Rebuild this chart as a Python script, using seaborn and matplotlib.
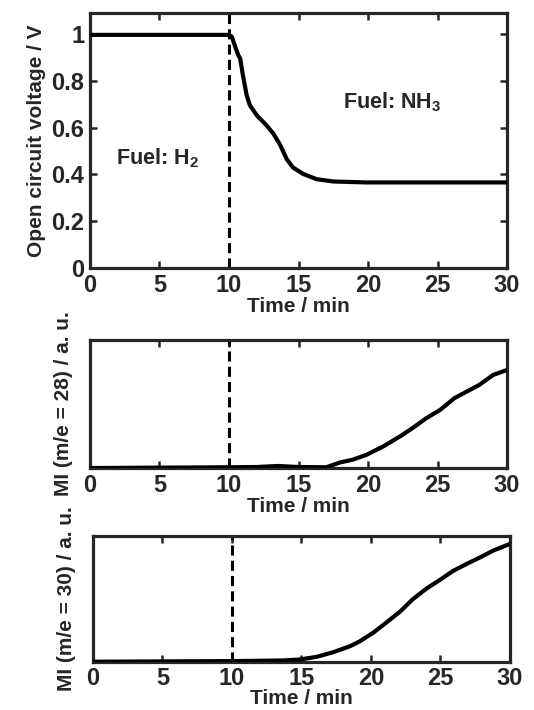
import numpy as np
import pandas as pd
import matplotlib
matplotlib.use('Agg')
import matplotlib.pyplot as plt
from matplotlib.ticker import FuncFormatter
import seaborn as sns

# Данные
switch_time = 10  # момент переключения топлива H2 -> NH3, мин

ocv_time = [0, 5, 9.9, 10.2, 10.4, 10.67, 10.8, 11.0, 11.27, 11.5, 12.0, 12.7,
            13.2, 13.7, 14.15, 14.6, 15.35, 16.3, 17.5, 19.9, 25, 30]
ocv_volt = [0.997, 0.997, 0.997, 0.99, 0.954, 0.91, 0.897, 0.825, 0.739, 0.696, 0.653, 0.61,
            0.574, 0.524, 0.466, 0.43, 0.402, 0.38, 0.37, 0.366, 0.366, 0.366]

mi28_time = [0, 10, 12, 13.5, 15, 17, 18, 18.9, 19.9, 21.1, 22.3, 23.2,
             24.2, 25.2, 26.2, 27.1, 28.0, 29.0, 30]
mi28_val = [0, 0.006, 0.008, 0.016, 0.008, 0.006, 0.044, 0.065, 0.104, 0.169, 0.247, 0.312,
            0.39, 0.455, 0.545, 0.597, 0.649, 0.727, 0.766]

mi30_time = [0, 10.1, 13.7, 14.9, 16.1, 17.3, 18.5, 19.2, 20.2, 21.1, 22.1, 23.0,
             24.0, 25.0, 25.9, 26.9, 27.8, 28.8, 30]
mi30_val = [0, 0.005, 0.01, 0.018, 0.039, 0.076, 0.123, 0.162, 0.233, 0.31, 0.398, 0.495,
            0.581, 0.652, 0.72, 0.777, 0.825, 0.882, 0.935]

x_ticks = [0, 5, 10, 15, 20, 25, 30]
ocv_ticks = [0, 0.2, 0.4, 0.6, 0.8, 1.0]

sns.set_theme(style='ticks')
plt.rcParams['font.family'] = ['Liberation Sans', 'DejaVu Sans']
plt.rcParams['font.weight'] = 'bold'
plt.rcParams['mathtext.fontset'] = 'custom'
plt.rcParams['mathtext.rm'] = 'Liberation Sans:bold'
plt.rcParams['mathtext.default'] = 'rm'

fig = plt.figure(figsize=(5.34, 7.10), dpi=100)
ax1 = fig.add_axes([0.1685, 0.6225, 0.781, 0.359])
ax2 = fig.add_axes([0.1685, 0.3408, 0.781, 0.1803])
ax3 = fig.add_axes([0.174, 0.068, 0.781, 0.1775])

df1 = pd.DataFrame({'t': ocv_time, 'v': ocv_volt})
df2 = pd.DataFrame({'t': mi28_time, 'v': mi28_val})
df3 = pd.DataFrame({'t': mi30_time, 'v': mi30_val})

for ax, df in [(ax1, df1), (ax2, df2), (ax3, df3)]:
    ax.axvline(switch_time, color='black', lw=2.2, linestyle=(0, (3.3, 1.7)), zorder=1)
    sns.lineplot(data=df, x='t', y='v', ax=ax, color='black', lw=3, zorder=3)
    ax.set_xlim(0, 30)
    ax.set_xticks(x_ticks)
    ax.set_xlabel('Time / min', fontsize=15, fontweight='bold', labelpad=0)
    for s in ax.spines.values():
        s.set_linewidth(2.3)
        s.set_visible(True)
    ax.tick_params(axis='both', direction='in', length=5, width=1.8,
                   top=True, right=True, labelsize=17, pad=4)

ax1.set_ylim(0, 1.09)
ax1.set_yticks(ocv_ticks)
ax1.yaxis.set_major_formatter(FuncFormatter(lambda v, p: '%g' % v))
ax1.set_ylabel('Open circuit voltage / V', fontsize=15, fontweight='bold', labelpad=4)
ax1.text(1.9, 0.47, 'Fuel: H$_2$', fontsize=15.5, fontweight='bold', va='center')
ax1.text(18.2, 0.71, 'Fuel: NH$_3$', fontsize=15.5, fontweight='bold', va='center')

ax2.set_ylim(0, 1)
ax2.set_yticks([])
ax2.set_ylabel('MI (m/e = 28) / a. u.', fontsize=15, fontweight='bold', labelpad=12)

ax3.set_ylim(0, 1)
ax3.set_yticks([])
ax3.set_ylabel('MI (m/e = 30) / a. u.', fontsize=15, fontweight='bold', labelpad=12)
ax3.set_xlabel('Time / min', fontsize=15, fontweight='bold', labelpad=-1)

for ax in [ax1, ax2, ax3]:
    for lbl in ax.get_xticklabels() + ax.get_yticklabels():
        lbl.set_fontweight('bold')

fig.savefig('out.png', dpi=100)
